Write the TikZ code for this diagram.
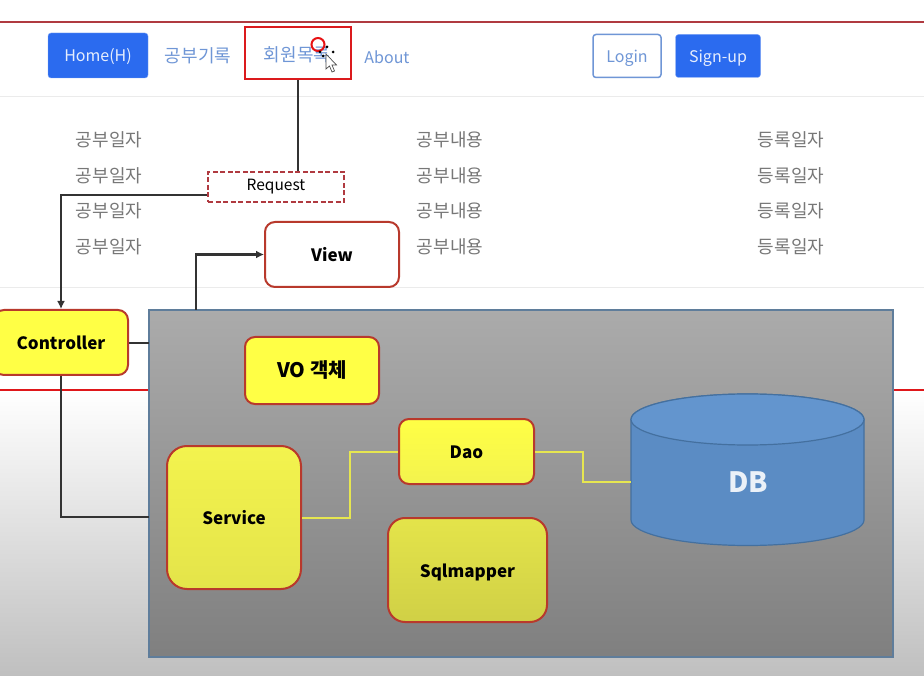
\documentclass[tikz,border=0pt]{standalone}
\usepackage{fontspec}
\setmainfont{Noto Sans CJK KR}
\usepackage{tikz}
\usetikzlibrary{arrows.meta}
\definecolor{linkblue}{HTML}{6F96D6}
\definecolor{btnblue}{HTML}{2B6BEF}
\definecolor{rulered}{HTML}{B03A40}
\definecolor{boxred}{HTML}{B8392C}
\definecolor{rowgray}{HTML}{777777}
\definecolor{panelline}{HTML}{5F7D9B}
\definecolor{dbblue}{HTML}{5B8CC4}
\definecolor{dbtop}{HTML}{6395CE}
\definecolor{dbline}{HTML}{44709F}
\definecolor{wireyellow}{HTML}{E6E650}
\definecolor{flatyellow}{HTML}{FFFF45}
\definecolor{midyellow}{HTML}{F3F34E}
\definecolor{lowyellow}{HTML}{E4E44A}
\definecolor{dimyellow}{HTML}{D0D046}
\tikzset{
	navbtn/.style={rounded corners=3, draw=btnblue!60!white, fill=btnblue, text=white!88!btnblue, inner sep=0pt, text height=16, text depth=3, font=\fontsize{16}{16}\selectfont},
	navlink/.style={text=linkblue, inner sep=0pt, font=\fontsize{16}{16}\selectfont},
	navkor/.style={navlink, font=\fontsize{18}{18}\selectfont},
	rowtext/.style={text=rowgray, inner sep=0pt, font=\fontsize{18}{18}\selectfont},
	block/.style={rounded corners=10, draw=boxred, line width=2, inner sep=0pt, text height=17, text depth=3, font=\fontsize{17}{17}\selectfont\bfseries},
	wire/.style={line width=2.2, color=black!80},
	yellowwire/.style={line width=2, color=wireyellow}
}
\begin{document}
\begin{tikzpicture}[x=1pt, y=-1pt]
		\useasboundingbox (0,0) rectangle (924,676);
		\fill [white] (0,0) rectangle (924,676);
		\shade [top color=white, bottom color=black!25] (0,390) rectangle (924,676);
		\draw [line width=2.2, color=rulered] (0,22) -- (924,22);
		\draw [line width=1, color=black!8] (0,97) -- (924,97);
		\draw [line width=1, color=black!8] (0,288) -- (924,288);
		\draw [line width=1.4, color=red!60!rulered] (0,390) -- (924,390);
		\node [navbtn, minimum width=100, minimum height=45] (home) at (98,55.5) {Home(H)};
		\node [navkor] (study) at (198,56) {공부기록};
		\node [draw=red!55!rulered, line width=2, minimum width=106, minimum height=52, inner sep=0pt, text=linkblue, text height=21, text depth=3, font=\fontsize{18}{18}\selectfont] (menu) at (298,53) {\hspace*{-2pt}회원목록};
		\node [navlink] (about) at (387,57) {About};
		\node [navbtn, line width=1.5, draw=linkblue, fill=white, text=linkblue, minimum width=68, minimum height=43] (login) at (627,56) {Login};
		\node [navbtn, minimum width=85, minimum height=43] (signup) at (718,56) {Sign-up};
		\foreach \y/\n in {140/1, 175.5/2, 211/3, 247/4} {
			\node [rowtext] (date\n) at (109,\y) {공부일자};
			\node [rowtext] (body\n) at (450,\y) {공부내용};
			\node [rowtext] (reg\n) at (791,\y) {등록일자};
		}
		\node [draw=rulered, dash pattern=on 5pt off 2.5pt, line width=1.8, fill=white, minimum width=136, minimum height=30, inner sep=0pt, font=\fontsize{15.5}{15.5}\selectfont] (request) at (276,187) {\raisebox{-3pt}{Request}};
		\node [block, fill=white, minimum width=134, minimum height=65] (view) at (332,254.5) {View};
		\shade [top color=black!33, bottom color=black!50] (149,310) rectangle (893,657);
		\draw [line width=2, color=panelline] (149,310) rectangle (893,657);
		\coordinate (panelleft) at (149,343);
		\coordinate (paneltop) at (196,310);
		\coordinate (panelback) at (149,517);
		\node [block, fill=flatyellow, minimum width=134, minimum height=65] (controller) at (61,342.5) {Controller};
		\node [block, fill=flatyellow, minimum width=134, minimum height=67, font=\fontsize{20}{20}\selectfont\bfseries] (vo) at (312,370.5) {VO 객체};
		\node [block, top color=flatyellow, bottom color=midyellow, minimum width=135, minimum height=65] (dao) at (466.5,451.5) {Dao};
		\node [block, rounded corners=20, top color=midyellow, bottom color=lowyellow, minimum width=134, minimum height=143] (service) at (234,517.5) {Service};
		\node [block, rounded corners=17, top color=lowyellow, bottom color=dimyellow, minimum width=159, minimum height=104] (mapper) at (467.5,570) {Sqlmapper};
		\draw [line width=1.2, color=dbline, fill=dbblue] (631,419.5) -- (631,520) arc (180:0:116.5 and 25.5) -- (864,419.5) arc (0:-180:116.5 and 25.5) -- cycle;
		\draw [line width=1.2, color=dbline, fill=dbtop] (747.5,419.5) ellipse (116.5 and 25.5);
		\node [text=white!88!dbblue, inner sep=0pt, font=\fontsize{28}{28}\selectfont\bfseries] (dblabel) at (748,482) {DB};
		\coordinate (dbleft) at (631,482);
		\draw [wire] (menu.south) -- (menu.south |- request.north);
		\draw [wire, -{Latex[length=8,width=8]}] ([yshift=-8]request.west) -| (controller.north);
		\draw [wire] (controller.east |- panelleft) -- (panelleft);
		\draw [wire] (controller.south) |- (panelback);
		\draw [wire, -{Latex[length=8,width=8]}] (paneltop) |- (view.west);
		\draw [yellowwire] (service.east) -- (350,517.5) |- (dao.west);
		\draw [yellowwire] (dao.east) -- (583,451.5) |- (dbleft);
		\draw [color=red!70!rulered, line width=2] (318,44.5) circle (6.5);
		\fill [white, draw=black!70, line width=0.7] (326,54) -- (326,69) -- (329.5,66) -- (332,72) -- (334.5,71) -- (332,65) -- (336.5,65) -- cycle;
		\foreach \p in {(320,52), (333,52), (327,47), (323,56)} {
			\fill [black] \p circle (1.5);
		}
	\end{tikzpicture}
\end{document}
